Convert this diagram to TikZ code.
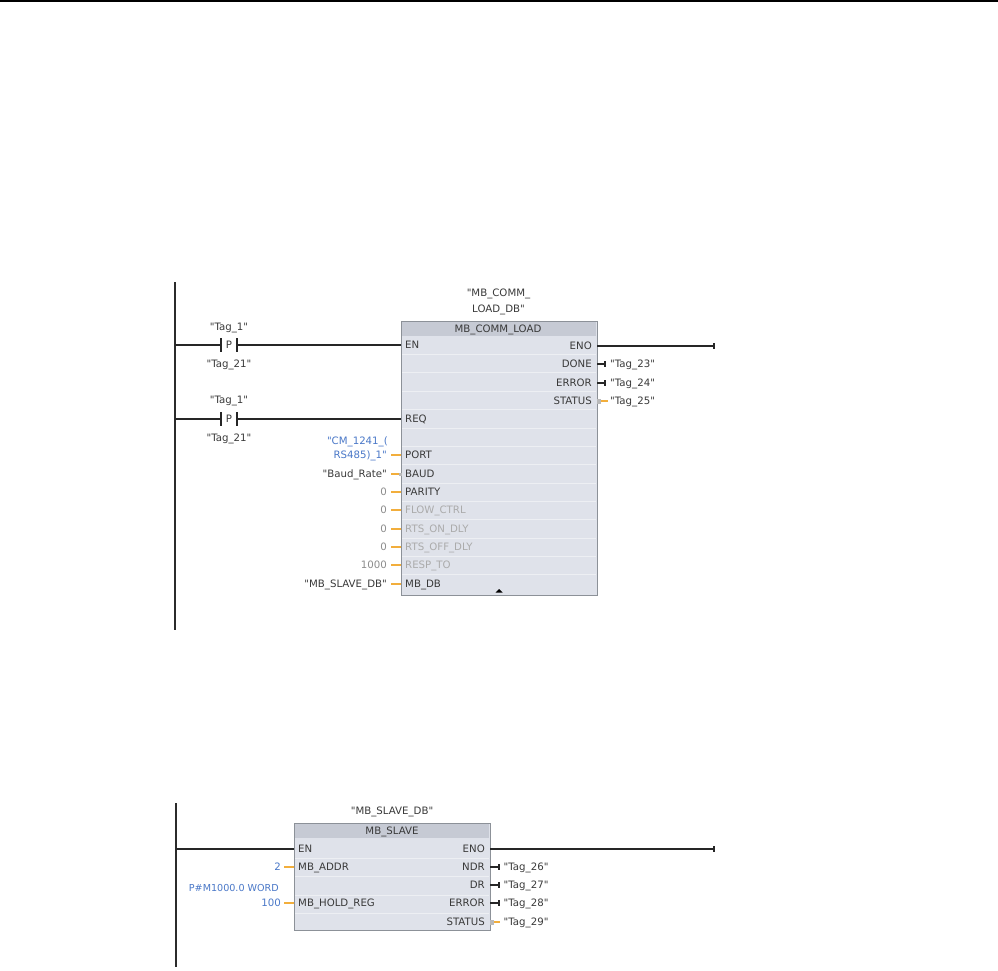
\documentclass[tikz,border=0pt]{standalone}
\usepackage{fontspec}
\newfontfamily\labelfont{DejaVu Sans}
\usetikzlibrary{arrows.meta}
\definecolor{wirecol}{HTML}{2B2B2B}
\definecolor{orangecol}{HTML}{F2AE3C}
\definecolor{bluecol}{HTML}{4A78C8}
\definecolor{graytext}{HTML}{ABABAB}
\definecolor{darktext}{HTML}{3A3A3A}
\definecolor{boxfill}{HTML}{DFE2EA}
\definecolor{headfill}{HTML}{C6CAD4}
\definecolor{boxline}{HTML}{8C9198}
\definecolor{rowline}{HTML}{EDEFF3}
\tikzset{
  lbl/.style={font=\labelfont\fontsize{10.2}{12}\selectfont, text=darktext, inner sep=0pt, text height=8.6pt, text depth=1pt},
  pinl/.style={lbl, anchor=west, inner xsep=4pt},
  pinr/.style={lbl, anchor=east, inner xsep=5pt},
  argtxt/.style={lbl, anchor=east, inner xsep=2pt},
  tagtxt/.style={lbl, anchor=west, inner xsep=4pt},
  offtxt/.style={text=graytext},
  bluetxt/.style={text=bluecol},
  zerotxt/.style={text=gray!90},
  railline/.style={wirecol, line width=1.8pt},
  rungline/.style={black!85, line width=1.6pt},
  estub/.style={orangecol, line width=1.5pt},
  bstub/.style={rungline, -{Bar[width=6pt,length=1.5pt]}},
  fb/.style={draw=boxline, fill=boxfill, line width=1pt, inner sep=0pt, anchor=north west},
  contact/.style={lbl, minimum width=16pt, inner xsep=0pt},
  sq/.style={fill=gray!55, draw=none, inner sep=0pt, minimum size=3pt}
}
\begin{document}
\begin{tikzpicture}[x=1pt,y=-1pt]
\useasboundingbox (0,0) rectangle (998,971);
\fill[white] (0,0) rectangle (998,971);
\draw[black, line width=1.4pt] (0,1) -- (998,1);

% ---------- network 1 ----------
\coordinate (railAtop) at (175,282);
\coordinate (railAbot) at (175,630);
\draw[railline] (railAtop) -- (railAbot);
\coordinate (railA1) at (175,345);
\coordinate (railA2) at (175,419);

\node[fb, minimum width=196pt, minimum height=274pt] (fbA) at (401,321) {};
\fill[headfill] (401.6,321.6) rectangle (596.4,336);
\foreach \y in {354,372,391,409,428,446,464,483,501,519,538,556,574}
  \draw[rowline, line width=.8pt] (402,\y) -- (596,\y);
\draw[boxline, line width=1pt] (401,321) rectangle (597,595);
\fill[black] (499,589) -- (495.5,592.5) -- (502.5,592.5) -- cycle;

\node[lbl] (capA1) at (498.5,293) {"MB\_COMM\_};
\node[lbl] (capA2) at (498.5,309) {LOAD\_DB"};
\node[lbl] (titleA) at (498,329) {MB\_COMM\_LOAD};

% inputs
\node[pinl] (aEN) at (401,345) {EN};
\node[pinl] (aREQ) at (401,419) {REQ};
\node[pinl] (aPORT) at (401,455) {PORT};
\node[pinl] (aBAUD) at (401,474) {BAUD};
\node[pinl] (aPAR) at (401,492) {PARITY};
\node[pinl,offtxt] (aFLOW) at (401,510) {FLOW\_CTRL};
\node[pinl,offtxt] (aRON) at (401,529) {RTS\_ON\_DLY};
\node[pinl,offtxt] (aROFF) at (401,547) {RTS\_OFF\_DLY};
\node[pinl,offtxt] (aRESP) at (401,565) {RESP\_TO};
\node[pinl] (aDB) at (401,584) {MB\_DB};

% contacts
\node[contact] (c1) at (229,345) {P};
\node[lbl] (c1a) at (229,327) {"Tag\_1"};
\node[lbl] (c1b) at (229,364) {"Tag\_21"};
\draw[rungline] (c1.west |- 0,338) -- (c1.west |- 0,352);
\draw[rungline] (c1.east |- 0,338) -- (c1.east |- 0,352);
\draw[rungline] (railA1) -- (c1.west);
\draw[rungline] (c1.east) -- (aEN.west);

\node[contact] (c2) at (229,419) {P};
\node[lbl] (c2a) at (229,400) {"Tag\_1"};
\node[lbl] (c2b) at (229,438) {"Tag\_21"};
\draw[rungline] (c2.west |- 0,412) -- (c2.west |- 0,426);
\draw[rungline] (c2.east |- 0,412) -- (c2.east |- 0,426);
\draw[rungline] (railA2) -- (c2.west);
\draw[rungline] (c2.east) -- (aREQ.west);

% input arguments
\node[lbl, anchor=east, bluetxt] (vPORT0) at (388,441) {"CM\_1241\_(};
\node[argtxt, bluetxt] (vPORT) at (389,455) {RS485)\_1"};
\node[argtxt] (vBAUD) at (389,474) {"Baud\_Rate"};
\node[argtxt, zerotxt] (vPAR) at (389,492) {0};
\node[argtxt, zerotxt] (vFLOW) at (389,510) {0};
\node[argtxt, zerotxt] (vRON) at (389,529) {0};
\node[argtxt, zerotxt] (vROFF) at (389,547) {0};
\node[argtxt, zerotxt] (vRESP) at (389,565) {1000};
\node[argtxt] (vDB) at (389,584) {"MB\_SLAVE\_DB"};
\foreach \a/\b in {vPORT/aPORT,vBAUD/aBAUD,vPAR/aPAR,vFLOW/aFLOW,vRON/aRON,vROFF/aROFF,vRESP/aRESP,vDB/aDB}
  \draw[estub, shorten <=2pt] (\a.east) -- (\b.west);
\node[sq] (sqBAUD) at (400,474) {};

% outputs
\node[pinr] (aENO) at (597,346) {ENO};
\node[pinr] (aDONE) at (597,364) {DONE};
\node[pinr] (aERR) at (597,383) {ERROR};
\node[pinr] (aSTAT) at (597,401) {STATUS};
\coordinate (endA) at (715,346);
\draw[rungline, -{Bar[width=6pt,length=1.5pt]}] (aENO.east) -- (endA);
\node[tagtxt] (tDONE) at (606,364) {"Tag\_23"};
\node[tagtxt] (tERR) at (606,383) {"Tag\_24"};
\node[tagtxt] (tSTAT) at (606,401) {"Tag\_25"};
\draw[bstub] (aDONE.east) -- (tDONE.west);
\draw[bstub] (aERR.east) -- (tERR.west);
\draw[estub, shorten >=-2pt] (aSTAT.east) -- (tSTAT.west);
\node[sq, minimum width=4pt, minimum height=5pt] (sqA) at (599,401) {};

% ---------- network 2 ----------
\coordinate (railBtop) at (176,803);
\coordinate (railBbot) at (176,967);
\draw[railline] (railBtop) -- (railBbot);
\coordinate (railB1) at (176,849);

\node[fb, minimum width=196pt, minimum height=107pt] (fbB) at (294,823) {};
\fill[headfill] (294.6,823.6) rectangle (489.4,838);
\foreach \y in {858,876,895,913}
  \draw[rowline, line width=.8pt] (295,\y) -- (489,\y);
\draw[boxline, line width=1pt] (294,823) rectangle (490,930);

\node[lbl] (capB) at (392,811) {"MB\_SLAVE\_DB"};
\node[lbl] (titleB) at (392,831) {MB\_SLAVE};

\node[pinl] (bEN) at (294,849) {EN};
\node[pinl] (bADDR) at (294,867) {MB\_ADDR};
\node[pinl] (bHOLD) at (294,903) {MB\_HOLD\_REG};
\draw[rungline] (railB1) -- (bEN.west);

\node[argtxt, bluetxt] (vADDR) at (283,867) {2};
\node[lbl, anchor=east, bluetxt, font=\labelfont\fontsize{9.6}{12}\selectfont] (vHOLD0) at (279,888) {P\#M1000.0 WORD};
\node[argtxt, bluetxt] (vHOLD) at (283,903) {100};
\draw[estub, shorten <=1pt] (vADDR.east) -- (bADDR.west);
\draw[estub, shorten <=1pt] (vHOLD.east) -- (bHOLD.west);

\node[pinr] (bENO) at (490,849) {ENO};
\node[pinr] (bNDR) at (490,867) {NDR};
\node[pinr] (bDR) at (490,885) {DR};
\node[pinr] (bERR) at (490,903) {ERROR};
\node[pinr] (bSTAT) at (490,922) {STATUS};
\coordinate (endB) at (715,849);
\draw[rungline, -{Bar[width=6pt,length=1.5pt]}] (bENO.east) -- (endB);
\node[tagtxt] (tNDR) at (499.5,867) {"Tag\_26"};
\node[tagtxt] (tDR) at (499.5,885) {"Tag\_27"};
\node[tagtxt] (tERRB) at (499.5,903) {"Tag\_28"};
\node[tagtxt] (tSTATB) at (499.5,922) {"Tag\_29"};
\draw[bstub] (bNDR.east) -- (tNDR.west);
\draw[bstub] (bDR.east) -- (tDR.west);
\draw[bstub] (bERR.east) -- (tERRB.west);
\draw[estub] (bSTAT.east) -- (tSTATB.west);
\node[sq, minimum width=4pt, minimum height=5pt] (sqB) at (492,922) {};
\end{tikzpicture}
\end{document}
